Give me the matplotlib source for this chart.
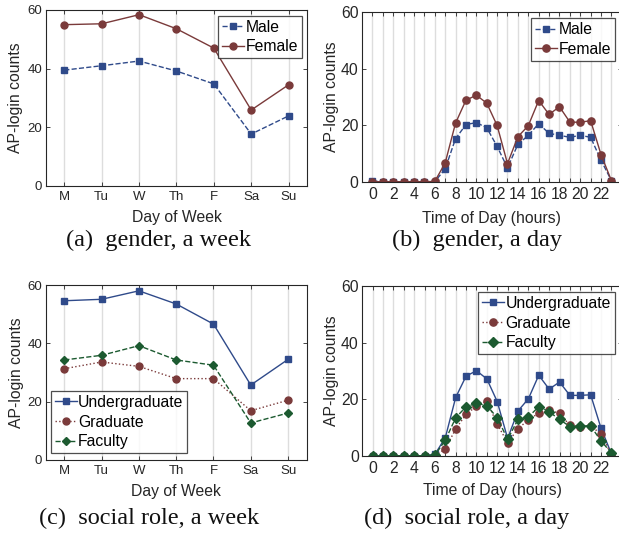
import matplotlib
matplotlib.use("Agg")
import matplotlib.pyplot as plt
import numpy as np

days = ["M", "Tu", "W", "Th", "F", "Sa", "Su"]
hours = list(range(24))

male_week = [39.5, 41.0, 42.6, 39.2, 34.8, 17.7, 23.9]
female_week = [55.0, 55.3, 58.4, 53.6, 47.0, 25.9, 34.5]

male_day = [0.4, 0.1, 0.1, 0.1, 0.1, 0.1, 0.1, 4.6, 15.3, 20.3, 21.0, 19.2,
            12.6, 5.0, 13.3, 16.5, 20.6, 17.2, 16.5, 15.8, 16.5, 15.8, 7.7, 0.5]
female_day = [0.1, 0.1, 0.1, 0.1, 0.1, 0.1, 0.2, 6.7, 20.8, 28.9, 30.7, 27.9,
              20.0, 6.5, 16.0, 19.9, 28.8, 23.9, 26.6, 21.2, 21.1, 21.7, 9.7, 0.5]

ugrad_week = [54.6, 55.1, 58.0, 53.5, 46.6, 25.7, 34.5]
grad_week = [31.3, 33.6, 32.1, 27.9, 27.9, 16.9, 20.5]
fac_week = [34.3, 35.9, 39.2, 34.3, 32.5, 12.7, 16.1]

ugrad_day = [0.1, 0.1, 0.1, 0.1, 0.1, 0.1, 0.6, 6.5, 20.7, 28.2, 30.1, 27.2,
             19.2, 6.2, 15.9, 20.2, 28.5, 23.6, 26.1, 21.4, 21.4, 21.6, 9.8, 0.8]
grad_day = [0.1, 0.1, 0.1, 0.1, 0.1, 0.1, 0.1, 2.5, 9.6, 14.7, 17.6, 19.4,
            11.2, 4.7, 9.6, 12.8, 15.1, 16.1, 15.1, 10.8, 10.4, 10.6, 7.8, 0.4]
fac_day = [0.1, 0.1, 0.1, 0.1, 0.1, 0.1, 0.3, 5.6, 13.5, 17.4, 18.6, 17.8,
           13.5, 5.9, 12.9, 13.8, 17.4, 15.6, 12.9, 10.4, 10.6, 10.6, 5.3, 1.1]

BLUE = "#2F4A8A"
RED = "#7A3A3A"
GREEN = "#1C5A30"
AXC = "#262626"

W, H = 619, 534
fig = plt.figure(figsize=(W / 100, H / 100), dpi=100)
plt.rcParams["font.family"] = ["Liberation Sans", "DejaVu Sans"]


def add_ax(l, t, r, b):
    return fig.add_axes([l / W, 1 - b / H, (r - l) / W, (b - t) / H])


def style(ax, tickfs, ylab_x, xlabel, xlab_y):
    for s in ax.spines.values():
        s.set_color(AXC)
        s.set_linewidth(0.8)
    ax.tick_params(direction="in", top=True, right=True, length=3,
                   width=0.6, colors=AXC, labelsize=tickfs, labelcolor=AXC)
    ax.tick_params(axis="y", pad=2.5)
    ax.set_ylim(0, 60)
    ax.set_yticks([0, 20, 40, 60])
    ax.grid(axis="x", color="#DDDDDD", linewidth=1.0)
    ax.set_axisbelow(True)
    ax.set_ylabel("AP-login counts", fontsize=11.3, color=AXC)
    ax.yaxis.set_label_coords(ylab_x, 0.5)
    ax.set_xlabel(xlabel, fontsize=11.3, color=AXC)
    ax.xaxis.set_label_coords(0.5, xlab_y)


def legend(ax, anchor, loc):
    lg = ax.legend(loc=loc, bbox_to_anchor=(anchor[0] / W, 1 - anchor[1] / H),
                   bbox_transform=fig.transFigure, borderaxespad=0,
                   fontsize=11.3, frameon=True, fancybox=False,
                   handlelength=1.4, handletextpad=0.1, labelspacing=0.3,
                   borderpad=0.25)
    lg.get_frame().set_edgecolor("#222222")
    lg.get_frame().set_linewidth(0.9)
    return lg


# (a)
ax = add_ax(45.6, 10, 307.3, 186)
x = np.arange(len(days))
ax.plot(x, male_week, "--", color=BLUE, marker="s", ms=4.3, lw=1.0, label="Male")
ax.plot(x, female_week, "-", color=RED, marker="o", ms=5.0, lw=1.0, label="Female")
ax.set_xlim(-0.5, 6.5)
ax.set_xticks(x)
ax.set_xticklabels(days)
style(ax, 9.5, -0.085, "Day of Week", -0.139)
legend(ax, (301.7, 15.7), "upper right")

# (b)
ax = add_ax(362, 12.3, 621.8, 182)
ax.plot(hours, male_day, "--", color=BLUE, marker="s", ms=4.3, lw=1.0, label="Male")
ax.plot(hours, female_day, "-", color=RED, marker="o", ms=5.2, lw=1.0, label="Female")
ax.set_xlim(-1, 24)
ax.set_xticks(hours)
ax.set_xticklabels([str(h) if h % 2 == 0 else "" for h in hours])
style(ax, 11.3, -0.09, "Time of Day (hours)", -0.168)
legend(ax, (615, 18.3), "upper right")

# (c)
ax = add_ax(45.7, 285, 306.7, 460)
ax.plot(x, ugrad_week, "-", color=BLUE, marker="s", ms=4.3, lw=1.0, label="Undergraduate")
ax.plot(x, grad_week, ":", color=RED, marker="o", ms=5.0, lw=1.0, label="Graduate")
ax.plot(x, fac_week, "--", color=GREEN, marker="D", ms=4.3, lw=1.0, label="Faculty")
ax.set_xlim(-0.5, 6.5)
ax.set_xticks(x)
ax.set_xticklabels(days)
style(ax, 9.5, -0.085, "Day of Week", -0.137)
legend(ax, (50.7, 453.3), "lower left")

# (d)
ax = add_ax(362.3, 286, 621.8, 456)
ax.plot(hours, ugrad_day, "-", color=BLUE, marker="s", ms=4.6, lw=1.0, label="Undergraduate")
ax.plot(hours, grad_day, ":", color=RED, marker="o", ms=5.2, lw=1.0, label="Graduate")
ax.plot(hours, fac_day, "--", color=GREEN, marker="D", ms=4.6, lw=1.0, label="Faculty")
ax.set_xlim(-1, 24)
ax.set_xticks(hours)
ax.set_xticklabels([str(h) if h % 2 == 0 else "" for h in hours])
style(ax, 11.3, -0.09, "Time of Day (hours)", -0.156)
legend(ax, (615, 292), "upper right")

# captions
capkw = dict(fontsize=17.5, family=["Liberation Serif", "DejaVu Serif"],
             ha="center", va="center", color="#111111")
fig.text(158 / W, 1 - 240 / H, "(a)  gender, a week", **capkw)
fig.text(477 / W, 1 - 240 / H, "(b)  gender, a day", **capkw)
fig.text(149 / W, 1 - 518 / H, "(c)  social role, a week", **capkw)
fig.text(467 / W, 1 - 518 / H, "(d)  social role, a day", **capkw)

fig.savefig("out.png", dpi=100)
